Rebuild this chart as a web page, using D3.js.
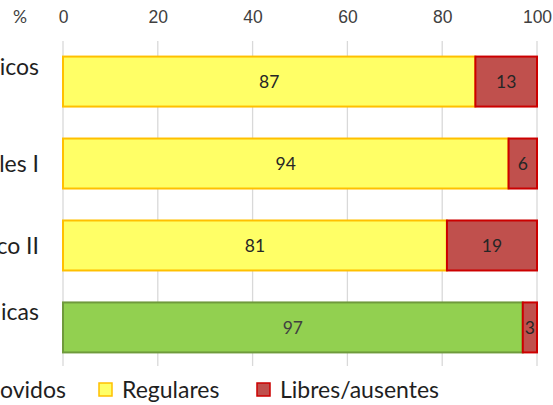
<!DOCTYPE html>
<html>
<head>
<meta charset="utf-8">
<script src="https://cdn.jsdelivr.net/npm/d3@7"></script>
<style>
  body { margin: 0; background: #fff; }
  svg { display: block; font-family: Lato, "Open Sans", sans-serif; }
</style>
</head>
<body>
<div id="chart"></div>
<script>
// categories (left labels are cut off in the picture, some are two lines)
const categories = ["icos", "les I", "co II", "icas"];
const categoryLines = [["icos", ""], ["les I"], ["co II"], ["icas", ""]];
const seriesNames = ["Promovidos", "Regulares", "Libres/ausentes"];
const legendLabels = ["ovidos", "Regulares", "Libres/ausentes"];
const promovidos = [0, 0, 0, 97];
const regulares = [87, 94, 81, 0];
const libres = [13, 6, 19, 3];
const xTicks = [0, 20, 40, 60, 80, 100];

const fills = ["#92d050", "#ffff66", "#c0504d"];
const strokes = ["#6f9a3c", "#ffc000", "#cc0000"];
const labelColors = ["#404040", "#262626", "#262626"];

const width = 553, height = 405;
const margin = { top: 41, right: 16, bottom: 37, left: 63 };

const svg = d3.select("#chart").append("svg")
  .attr("width", width).attr("height", height);

const rows = categories.map((c, i) => ({
  cat: c, Promovidos: promovidos[i], Regulares: regulares[i], "Libres/ausentes": libres[i]
}));
const stacked = d3.stack().keys(seriesNames)(rows);

const x = d3.scaleLinear().domain([0, 100]).range([margin.left, width - margin.right]);
const y = d3.scaleBand().domain(categories)
  .range([margin.top, height - margin.bottom])
  .paddingInner(0.39).paddingOuter(0.19);

// gridlines
svg.append("g")
  .selectAll("line")
  .data(xTicks)
  .join("line")
  .attr("x1", d => x(d)).attr("x2", d => x(d))
  .attr("y1", margin.top).attr("y2", height - margin.bottom - 2)
  .attr("stroke", "#d9d9d9").attr("stroke-width", 1.3);

// top axis labels
const axis = svg.append("g")
  .attr("transform", `translate(0,${margin.top})`)
  .call(d3.axisTop(x).tickValues(xTicks).tickSize(0).tickPadding(18));
axis.select(".domain").remove();
axis.selectAll("text")
  .attr("fill", "#404040")
  .style("font-size", "17.5px");

svg.append("text")
  .attr("x", 20).attr("y", 23)
  .attr("text-anchor", "middle")
  .attr("fill", "#404040")
  .style("font-size", "17.5px")
  .text("%");

// bars
stacked.forEach((s, si) => {
  const g = svg.append("g");
  const pts = s.map((d, i) => ({ d, i })).filter(p => p.d[1] - p.d[0] > 0);
  g.selectAll("rect")
    .data(pts)
    .join("rect")
    .attr("x", p => x(p.d[0]))
    .attr("y", p => y(categories[p.i]))
    .attr("width", p => x(p.d[1]) - x(p.d[0]))
    .attr("height", y.bandwidth())
    .attr("fill", fills[si])
    .attr("stroke", strokes[si])
    .attr("stroke-width", 2);
  g.selectAll("text")
    .data(pts)
    .join("text")
    .attr("x", p => (x(p.d[0]) + x(p.d[1])) / 2)
    .attr("y", p => y(categories[p.i]) + y.bandwidth() / 2)
    .attr("dy", "0.35em")
    .attr("text-anchor", "middle")
    .attr("fill", labelColors[si])
    .style("font-size", "17.5px")
    .text(p => p.d[1] - p.d[0]);
});

// category labels
const lineH = 30;
svg.append("g")
  .selectAll("text")
  .data(categories)
  .join("text")
  .attr("text-anchor", "end")
  .attr("fill", "#1f1f1f")
  .style("font-size", "23px")
  .each(function (d, i) {
    const lines = categoryLines[i];
    const cy = y(d) + y.bandwidth() / 2 - (lines.length - 1) * lineH / 2;
    d3.select(this).selectAll("tspan")
      .data(lines)
      .join("tspan")
      .attr("x", 39)
      .attr("y", (l, j) => cy + j * lineH)
      .attr("dy", "0.35em")
      .text(l => l);
  });

// legend
const legendX = [null, 99, 257];
const lg = svg.append("g");
lg.append("text")
  .attr("x", 66).attr("y", 390).attr("dy", "0.35em")
  .attr("text-anchor", "end")
  .attr("fill", "#1f1f1f").style("font-size", "23px")
  .text(legendLabels[0]);
[1, 2].forEach(i => {
  lg.append("rect")
    .attr("x", legendX[i]).attr("y", 383)
    .attr("width", 13).attr("height", 13)
    .attr("fill", fills[i]).attr("stroke", strokes[i]).attr("stroke-width", 1.5);
  lg.append("text")
    .attr("x", legendX[i] + 23).attr("y", 390).attr("dy", "0.35em")
    .attr("fill", "#1f1f1f").style("font-size", "23px")
    .text(legendLabels[i]);
});
</script>
</body>
</html>
